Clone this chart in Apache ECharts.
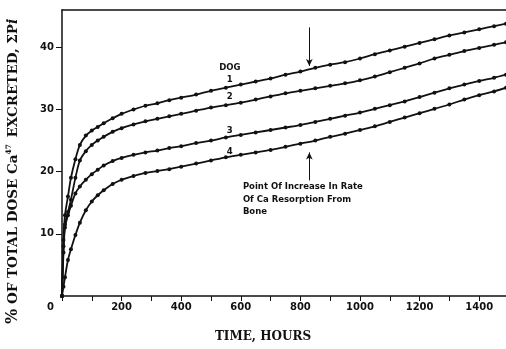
<!DOCTYPE html>
<html>
<head>
<meta charset="utf-8">
<script src="https://cdn.jsdelivr.net/npm/echarts@6/dist/echarts.min.js"></script>
<style>
html,body{margin:0;padding:0;background:#fff;}
#c{width:506px;height:349px;}
</style>
</head>
<body>
<div id="c"></div>
<script>
// Time (hours) at which points were read
var hours = [5,10,20,30,45,60,80,100,120,140,170,200,240,280,320,360,400,450,500,550,600,650,700,750,800,850,900,950,1000,1050,1100,1150,1200,1250,1300,1350,1400,1450,1490];
// % of total dose Ca47 excreted, per dog
var dog1 = [9,13,16,19,22,24.3,25.8,26.6,27.2,27.8,28.6,29.3,30.0,30.6,31.0,31.5,31.9,32.4,33.0,33.5,34.0,34.5,35.0,35.6,36.1,36.7,37.2,37.6,38.2,38.9,39.5,40.1,40.7,41.3,41.9,42.4,42.9,43.4,43.8];
var dog2 = [8,11.5,13.5,15.5,19,21.8,23.3,24.3,25.0,25.6,26.4,27.0,27.6,28.1,28.5,28.9,29.3,29.8,30.3,30.7,31.1,31.6,32.1,32.6,33.0,33.4,33.8,34.2,34.7,35.3,36.0,36.7,37.4,38.2,38.8,39.4,39.9,40.4,40.8];
var dog3 = [7,11,13,14.5,16.5,17.6,18.7,19.6,20.3,21.0,21.7,22.2,22.7,23.1,23.4,23.8,24.1,24.6,25.0,25.5,25.9,26.3,26.7,27.1,27.5,28.0,28.5,29.0,29.5,30.1,30.7,31.3,32.0,32.7,33.4,34.0,34.6,35.1,35.6];
var dog4 = [1.5,3,5.8,7.5,9.8,11.8,13.8,15.2,16.2,17.0,18.0,18.7,19.3,19.8,20.1,20.4,20.8,21.3,21.8,22.3,22.7,23.1,23.5,24.0,24.5,25.0,25.6,26.1,26.7,27.3,28.0,28.7,29.4,30.1,30.8,31.6,32.3,32.9,33.5];
var seriesNames = ['1','2','3','4'];
var xTicks = [0,200,400,600,800,1000,1200,1400];
var yTicks = [10,20,30,40];
var markerHour = 830;

var ink = '#111';
function pairs(ys){ var out=[[0,0]]; for(var i=0;i<hours.length;i++) out.push([hours[i], ys[i]]); return out; }
function mkSeries(name, ys, extra){
  var s = {
    name: name, type: 'line', data: pairs(ys), smooth: 0.3,
    symbol: 'circle', symbolSize: 4, showSymbol: true,
    itemStyle: {color: ink}, lineStyle: {color: ink, width: 1.8},
    animation: false, z: 3
  };
  if (extra) for (var k in extra) s[k] = extra[k];
  return s;
}
var arrowLine = {
  silent: true, symbol: ['none','arrow'], symbolSize: [5,7],
  lineStyle: {color: ink, width: 1, type: 'solid'}, label: {show: false},
  data: []
};
var m1 = JSON.parse(JSON.stringify(arrowLine));
m1.data = [[{coord: [markerHour, 43.2]}, {coord: [markerHour, 37.0]}]];
var m4 = JSON.parse(JSON.stringify(arrowLine));
m4.data = [[{coord: [markerHour, 18.6]}, {coord: [markerHour, 23.1]}]];

var chart = echarts.init(document.getElementById('c'), null, {renderer: 'canvas'});
var option = {
  backgroundColor: '#fff',
  animation: false,
  grid: {left: 62, right: 0, top: 10, bottom: 53, containLabel: false},
  xAxis: [{
    type: 'value', min: 0, max: 1490, interval: 200,
    axisLine: {show: true, lineStyle: {color: ink, width: 1.5}},
    axisTick: {show: true, length: 5, lineStyle: {color: ink, width: 1}},
    minorTick: {show: true, splitNumber: 2, length: 5, lineStyle: {color: ink, width: 1}},
    splitLine: {show: false},
    axisLabel: {
      showMaxLabel: false, alignMinLabel: 'right', margin: 6,
      color: ink, fontFamily: 'DejaVu Sans', fontWeight: 'bold', fontSize: 10,
      formatter: function(v){ return v === 0 ? '{z|0}' : (xTicks.indexOf(v) >= 0 ? String(v) : ''); },
      rich: {z: {padding: [0, 8, 0, 0], color: ink, fontFamily: 'DejaVu Sans', fontWeight: 'bold', fontSize: 10}}
    }
  }, {
    type: 'value', min: 0, max: 1490, position: 'top',
    axisLine: {show: true, lineStyle: {color: ink, width: 1.5}},
    axisTick: {show: false}, axisLabel: {show: false}, splitLine: {show: false}
  }],
  yAxis: {
    type: 'value', min: 0, max: 46, interval: 10,
    axisLine: {show: true, lineStyle: {color: ink, width: 1.5}},
    axisTick: {show: true, length: 6, lineStyle: {color: ink, width: 1}},
    splitLine: {show: false},
    axisLabel: {
      showMinLabel: false, showMaxLabel: false, margin: 8,
      color: ink, fontFamily: 'DejaVu Sans', fontWeight: 'bold', fontSize: 10,
      formatter: function(v){ return yTicks.indexOf(v) >= 0 ? String(v) : ''; }
    }
  },
  series: [
    mkSeries(seriesNames[0], dog1, {markLine: m1}),
    mkSeries(seriesNames[1], dog2),
    mkSeries(seriesNames[2], dog3),
    mkSeries(seriesNames[3], dog4, {markLine: m4})
  ]
};
chart.setOption(option);

function px(x, y){ return chart.convertToPixel({xAxisIndex: 0, yAxisIndex: 0}, [x, y]); }
var lblFont = {fontFamily: 'DejaVu Sans', fontWeight: 'bold', fontSize: 8.5, fill: ink};
function txt(text, p, align, font){
  var st = {text: text, textAlign: align || 'center', textVerticalAlign: 'middle'};
  var f = font || lblFont;
  for (var k in f) st[k] = f[k];
  return {type: 'text', x: p[0], y: p[1], style: st, silent: true, z: 10};
}
var labelHour = 563;
var noteHour = 607;
var g = [
  txt('DOG', px(labelHour, 36.7)),
  txt('1', px(labelHour, 34.8)),
  txt('2', px(labelHour, 32.1)),
  txt('3', px(labelHour, 26.6)),
  txt('4', px(labelHour, 23.2)),
  txt('Point Of Increase In Rate', px(noteHour, 17.6), 'left'),
  txt('Of Ca Resorption From', px(noteHour, 15.5), 'left'),
  txt('Bone', px(noteHour, 13.6), 'left'),
  {type: 'text', x: 263, y: 337, silent: true,
   style: {text: 'TIME, HOURS', textAlign: 'center', textVerticalAlign: 'middle',
           fontFamily: 'DejaVu Serif', fontWeight: 'bold', fontSize: 12, fill: ink}},
  {type: 'text', x: 13, y: 324, rotation: Math.PI/2, silent: true,
   style: {text: '{p|%} OF TOTAL DOSE Ca{s|47} EXCRETED, ΣP{i|i}', textAlign: 'left', textVerticalAlign: 'middle',
           fontFamily: 'DejaVu Serif', fontWeight: 'bold', fontSize: 13.5, fill: ink,
           rich: {
             p: {fontFamily: 'DejaVu Serif', fontWeight: 'bold', fontSize: 16, fill: ink},
             s: {fontFamily: 'DejaVu Serif', fontWeight: 'bold', fontSize: 7.5, verticalAlign: 'top', padding: [0,2,6,0]},
             i: {fontFamily: 'DejaVu Serif', fontStyle: 'italic', fontWeight: 'bold', fontSize: 14}
           }}}
];
chart.setOption({graphic: g});
</script>
</body>
</html>
